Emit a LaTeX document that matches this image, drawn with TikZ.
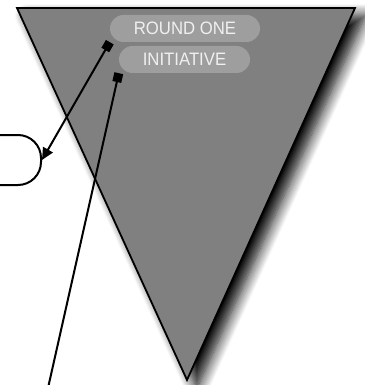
\documentclass[tikz,border=0pt]{standalone}
\usepackage{fontspec}
\newfontfamily\pillfont[FakeStretch=0.93]{Liberation Sans}
\usetikzlibrary{arrows.meta, positioning, shadows.blur}

\begin{document}
\begin{tikzpicture}[x=1pt, y=-1pt,
    pill/.style={rectangle, fill=black!38, rounded corners=13.5pt, text=white!94!black,
        font=\pillfont\fontsize{18}{18}\selectfont, minimum height=27pt, inner sep=0pt},
    endbox/.style={rectangle, draw=black, line width=2pt, rounded corners=23pt,
        minimum width=80pt, minimum height=50pt},
    link/.style={line width=2pt, black,
        {Square[length=9pt, width=9pt]}-{Triangle[length=12pt, width=11pt]}},
    drop/.style={line width=2pt, black, {Square[length=9pt, width=9pt]}-}
]
    \useasboundingbox (0,0) rectangle (364,385);
    % funnel
    \draw[line width=1.8pt, fill=black!50,
        blur shadow={shadow xshift=10pt, shadow yshift=-8pt, shadow blur radius=12pt,
            shadow blur steps=12, shadow opacity=100}]
        (17,8) -- (355,8) -- (187,380) -- cycle;
    \node[pill, minimum width=150pt] (round) at (185,28.5) {ROUND ONE};
    \node[pill, minimum width=131pt] (init) at (184.5,59.5) {INITIATIVE};
    \node[endbox] (offpage) at (1,160) {};
    \coordinate (below) at (48,388);
    \draw[link] (round.south west) -- (offpage.east);
    \draw[drop] (init.south west) -- (below);
\end{tikzpicture}
\end{document}
